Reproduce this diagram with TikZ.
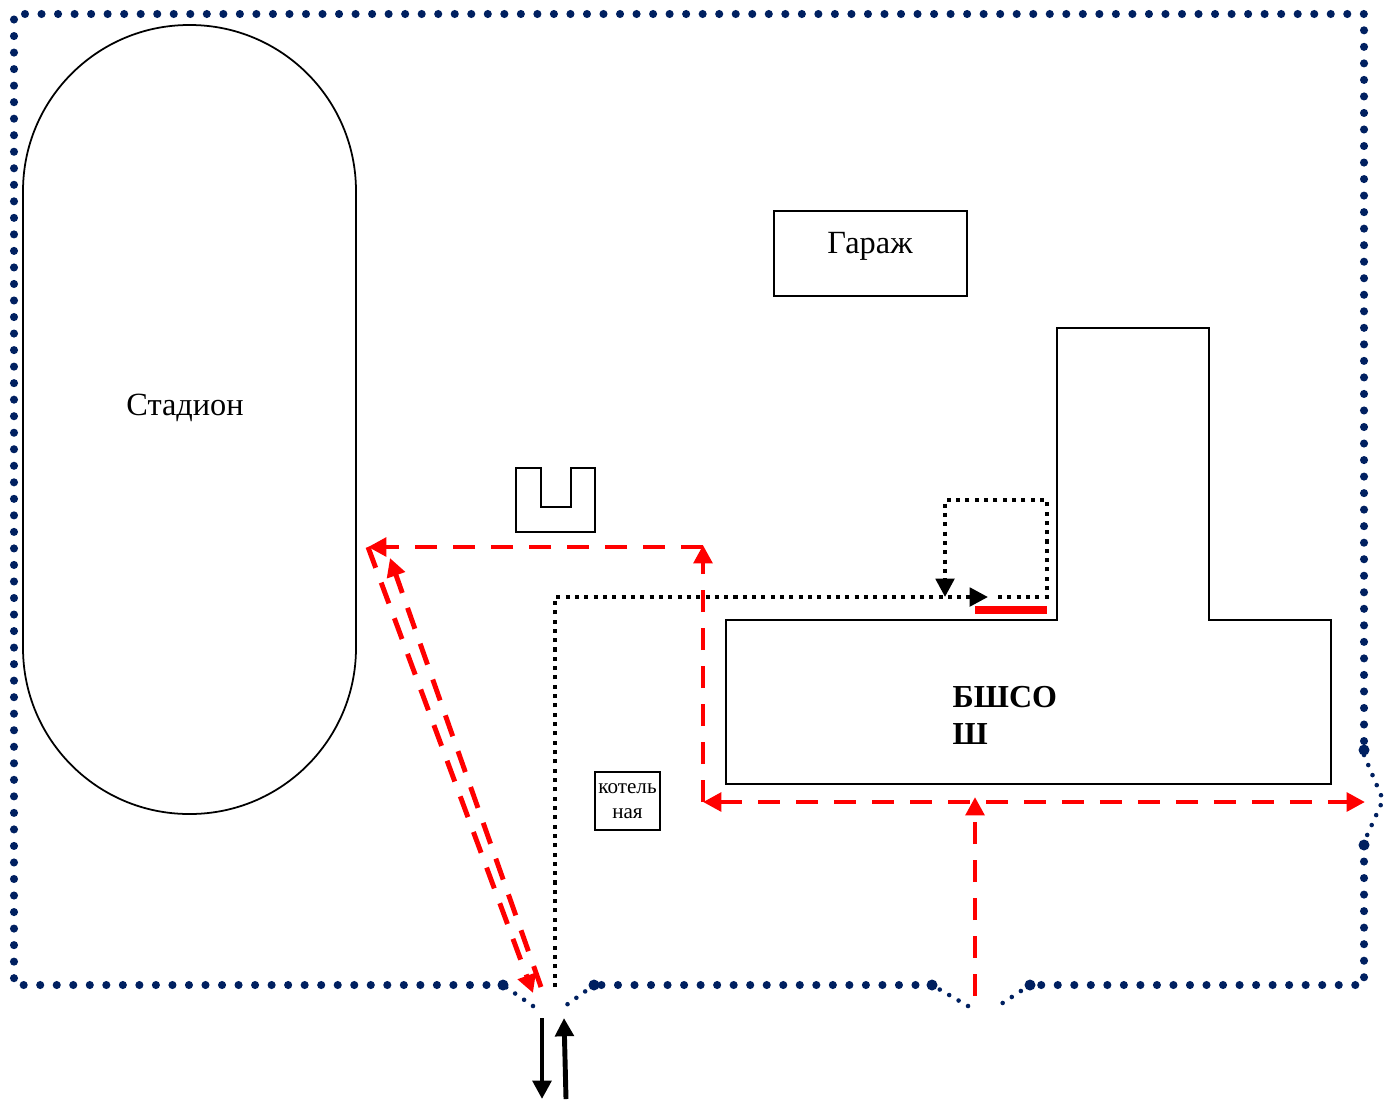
\documentclass[tikz,border=0pt]{standalone}
\usepackage{fontspec}
\setmainfont{Liberation Serif}
\usetikzlibrary{arrows.meta}
\definecolor{fencecolor}{HTML}{002060}
\tikzset{
wall/.style={draw, line width=.5pt},
bigfence/.style={fencecolor, line width=2.3pt, line cap=round, dash pattern=on 0pt off 4.7pt},
smallfence/.style={fencecolor, line width=1.3pt, line cap=round, dash pattern=on 0pt off 3.1pt},
redway/.style={red, line width=1.4pt, dash pattern=on 6.3pt off 4.5pt},
blackway/.style={line width=1.15pt, dash pattern=on 1.15pt off 1.5pt},
}
\begin{document}
\begin{tikzpicture}[x=.01cm, y=-.01cm, >={Triangle[length=5.2pt,width=5.2pt]}]
\useasboundingbox (0,0) rectangle (1389,1100);
% fence
\draw[bigfence] (503,985)--(14,985)--(14,14)--(1364,14)--(1364,750);
\draw[bigfence] (1364,845)--(1364,985)--(1030,985);
\draw[bigfence] (932,985)--(594,985);
\draw[smallfence] (1364,755)--(1383,800)--(1364,842);
\draw[smallfence] (1030,985)--(998,1006);
\draw[smallfence] (968,1006)--(932,985);
\draw[smallfence] (594,985)--(565,1006);
\draw[smallfence] (533,1006)--(503,985);
\foreach \p in {(503,985),(594,985),(932,985),(1030,985),(1364,750),(1364,845)}
\fill[fencecolor] \p circle (5.5);
% buildings
\draw[wall, rounded corners=1.66cm] (23,25) rectangle (356,814);
\node[font=\fontsize{9.2}{11}\selectfont](stadion) at (185,408){Стадион};
\draw[wall] (774,211) rectangle (967,296);
\node[font=\fontsize{9.2}{11}\selectfont](garage) at (870,246){Гараж};
\draw[wall] (726,620)--(1057,620)--(1057,328)--(1209,328)--(1209,620)--(1331,620)--(1331,784)--(726,784)--cycle;
\node[font=\fontsize{9.1}{10.5}\selectfont\bfseries, align=left, anchor=north west, inner sep=0pt](school) at (952,686){БШСО\\Ш};
\draw[wall] (516,468)--(541,468)--(541,507)--(571,507)--(571,468)--(595,468)--(595,532)--(516,532)--cycle;
\node[wall, minimum width=.65cm, minimum height=.58cm, inner sep=0pt, align=center, font=\fontsize{6}{7}\selectfont](boiler) at (627.5,801){котель\\ная};
% route points
\coordinate (A) at (368,547);
\coordinate (A1) at (390,558);
\coordinate (B) at (703,547);
\coordinate (B1) at (703,545);
\coordinate (C) at (703,802);
\coordinate (D) at (1365,802);
\coordinate (E) at (975,797);
\coordinate (E1) at (975,996);
\coordinate (G) at (533,993);
\coordinate (G1) at (541,987);
\coordinate (H) at (555,987);
\coordinate (H1) at (555,597);
\coordinate (J) at (988,597);
\coordinate (K) at (998,597);
\coordinate (K1) at (1047,597);
\coordinate (K2) at (1047,500);
\coordinate (K3) at (945,500);
\coordinate (K4) at (945,597);
\coordinate (M) at (975,610);
\coordinate (M1) at (1047,610);
\coordinate (N) at (542,1018);
\coordinate (N1) at (542,1099);
\coordinate (P) at (566,1099);
\coordinate (P1) at (564,1018);
% routes
\draw[redway, ->] (C)--(B1);
\draw[redway, ->] (B)--(A);
\draw[redway, ->] (A)--(G);
\draw[redway, ->] (G1)--(A1);
\draw[redway, <->] (C)--(D);
\draw[redway, ->] (E1)--(E);
\draw[blackway, ->] (H)--(H1)--(J);
\draw[blackway, ->] (K)--(K1)--(K2)--(K3)--(K4);
\draw[red, line width=2pt] (M)--(M1);
\draw[line width=1.4pt, ->] (N)--(N1);
\draw[line width=1.4pt, ->] (P)--(P1);
\end{tikzpicture}
\end{document}
